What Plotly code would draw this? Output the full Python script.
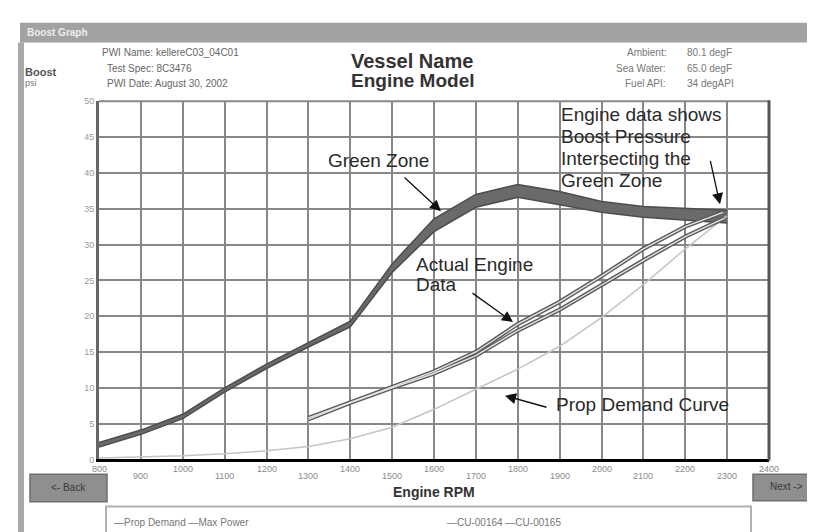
import plotly.graph_objects as go

# ---------------- data ----------------
zone_rpm = [800, 900, 1000, 1100, 1200, 1300, 1400, 1500, 1600, 1700, 1800, 1900, 2000, 2100, 2200, 2300]
zone_upper = [2.35, 4.1, 6.3, 10.0, 13.3, 16.3, 19.3, 27.3, 33.6, 37.0, 38.4, 37.4, 36.0, 35.3, 35.1, 34.8]
zone_lower = [1.75, 3.5, 5.7, 9.4, 12.7, 15.7, 18.5, 26.1, 31.8, 35.2, 36.6, 35.6, 34.5, 33.8, 33.4, 33.0]

prop_rpm = [800, 900, 1000, 1100, 1200, 1300, 1400, 1500, 1600, 1700, 1800, 1900, 2000, 2100, 2200, 2300]
prop_demand = [0.2, 0.3, 0.5, 0.8, 1.2, 1.8, 2.9, 4.5, 7.0, 9.8, 12.6, 15.8, 19.8, 24.4, 29.4, 34.0]

engine_rpm = [1300, 1400, 1500, 1600, 1700, 1800, 1900, 2000, 2100, 2200, 2290]
cu_00164 = [5.8, 8.0, 10.2, 12.3, 15.0, 18.9, 22.0, 25.6, 29.4, 32.5, 34.5]
cu_00165 = [5.6, 7.9, 10.0, 12.0, 14.5, 18.0, 20.9, 24.4, 27.8, 31.1, 33.6]

x_ticks = [800, 900, 1000, 1100, 1200, 1300, 1400, 1500, 1600, 1700, 1800, 1900, 2000, 2100, 2200, 2300, 2400]
x_tick_labels = ["800", "900", "1000", "1100", "1200", "1300", "1400", "1500", "1600",
                 "1700", "1800", "1900", "2000", "2100", "2200", "2300", "2400"]
legend_items_left = ["Prop Demand", "Max Power"]
legend_items_right = ["CU-00164", "CU-00165"]

# ---------------- layout helpers (figure pixels -> paper) ----------------
W, H = 815, 532
def P(px):
    return px / W
def Q(py):
    return 1 - py / H

FONT = "Arial, Liberation Sans, sans-serif"
GRID = "#888888"

fig = go.Figure()

# Green zone band
fig.add_trace(go.Scatter(x=zone_rpm, y=zone_lower, mode="lines",
                         line=dict(color="#4d4d4d", width=1.5), hoverinfo="skip"))
fig.add_trace(go.Scatter(x=zone_rpm, y=zone_upper, mode="lines", fill="tonexty",
                         fillcolor="#6a6a6a", line=dict(color="#4d4d4d", width=1.5),
                         name="Max Power"))

# Prop demand curve
fig.add_trace(go.Scatter(x=prop_rpm, y=prop_demand, mode="lines",
                         line=dict(color="#c4c4c4", width=1.5), name="Prop Demand"))

# Engine data (hollow double lines)
for series, nm in [(cu_00164, "CU-00164"), (cu_00165, "CU-00165")]:
    fig.add_trace(go.Scatter(x=engine_rpm, y=series, mode="lines",
                             line=dict(color="#5a5a5a", width=4.2), name=nm))
for series, nm in [(cu_00164, "CU-00164"), (cu_00165, "CU-00165")]:
    fig.add_trace(go.Scatter(x=engine_rpm, y=series, mode="lines",
                             line=dict(color="#e4e4e4", width=1.4), hoverinfo="skip",
                             showlegend=False))

fig.update_layout(
    width=W, height=H,
    margin=dict(l=0, r=0, t=0, b=0),
    paper_bgcolor="white", plot_bgcolor="white",
    showlegend=False,
    font=dict(family=FONT, color="#333"),
    xaxis=dict(domain=[P(91), P(761)], range=[800, 2400], dtick=100, tick0=800,
               showgrid=True, gridcolor=GRID, gridwidth=2, zeroline=False,
               showticklabels=False, showline=True, linecolor="black", linewidth=3,
               ticks=""),
    yaxis=dict(domain=[Q(455), Q(90)], range=[0, 50], dtick=5, tick0=0,
               showgrid=True, gridcolor=GRID, gridwidth=2, zeroline=False,
               showline=True, linecolor="#666", linewidth=3, ticks="",
               tickfont=dict(size=9, color="#9a9a9a", family=FONT)),
)

shapes = []
# window title bar and frame
shapes.append(dict(type="rect", xref="paper", yref="paper", x0=P(12), x1=P(815), y0=Q(30), y1=Q(10),
                   fillcolor="#a2a2a2", line=dict(width=0), layer="below"))
shapes.append(dict(type="rect", xref="paper", yref="paper", x0=P(10), x1=P(16), y0=Q(532), y1=Q(30),
                   fillcolor="#a8a8a8", line=dict(width=0), layer="below"))
# plot frame top and right
shapes.append(dict(type="line", xref="paper", yref="paper", x0=P(91), x1=P(761), y0=Q(90), y1=Q(90),
                   line=dict(color=GRID, width=2)))
shapes.append(dict(type="line", xref="paper", yref="paper", x0=P(761), x1=P(761), y0=Q(456), y1=Q(89),
                   line=dict(color="#555", width=3)))
# buttons
shapes.append(dict(type="rect", xref="paper", yref="paper", x0=P(22), x1=P(99), y0=Q(498), y1=Q(470),
                   fillcolor="#8f8f8f", line=dict(color="#6e6e6e", width=1.5)))
shapes.append(dict(type="rect", xref="paper", yref="paper", x0=P(745), x1=P(812), y0=Q(497), y1=Q(470),
                   fillcolor="#8f8f8f", line=dict(color="#6e6e6e", width=1.5)))
# legend box
shapes.append(dict(type="rect", xref="paper", yref="paper", x0=P(98), x1=P(743), y0=Q(531), y1=Q(503),
                   fillcolor="white", line=dict(color="#b0b0b0", width=2)))
fig.update_layout(shapes=shapes)

ann = []
def txt(text, x, y, size=10, color="#666", xanchor="left", bold=False, yanchor="middle"):
    if bold:
        text = "<b>" + text + "</b>"
    ann.append(dict(text=text, x=P(x), y=Q(y), xref="paper", yref="paper", showarrow=False,
                    xanchor=xanchor, yanchor=yanchor, font=dict(size=size, color=color, family=FONT)))

def arrow(tail, head):
    ann.append(dict(text="", x=P(head[0]), y=Q(head[1]), xref="paper", yref="paper",
                    showarrow=True, ax=tail[0] - head[0], ay=tail[1] - head[1],
                    arrowhead=2, arrowsize=1.7, arrowwidth=1.3, arrowcolor="#111"))

# title bar text
txt("Boost Graph", 17, 20, size=10, color="#eeeeee", bold=True)
# header
txt("Boost", 15, 60, size=11, color="#555", bold=True)
txt("psi", 15, 71, size=9, color="#777")
txt("PWI Name: kellereC03_04C01", 92, 40, size=10, color="#666")
txt("Test Spec: 8C3476", 97, 57, size=10, color="#666")
txt("PWI Date: August 30, 2002", 97, 72, size=10, color="#666")
txt("Vessel Name", 404, 49, size=20, color="#333", xanchor="center", bold=True)
txt("Engine Model", 405, 69, size=19, color="#333", xanchor="center", bold=True)
for lab, val, y in [("Ambient:", "80.1 degF", 40), ("Sea Water:", "65.0 degF", 57), ("Fuel API:", "34 degAPI", 72)]:
    txt(lab, 660, y, size=10, color="#777", xanchor="right")
    txt(val, 677, y, size=10, color="#777")

# x tick labels (alternating rows)
for i, (v, lab) in enumerate(zip(x_ticks, x_tick_labels)):
    ann.append(dict(text=lab, x=v, y=Q(465 if i % 2 == 0 else 472), xref="x", yref="paper",
                    showarrow=False, xanchor="center", yanchor="middle",
                    font=dict(size=9, color="#8a8a8a", family=FONT)))
txt("Engine RPM", 426, 488, size=14, color="#333", xanchor="center", bold=True)

# buttons
txt("&lt;- Back", 60, 484, size=10, color="#3a3a3a", xanchor="center")
txt("Next -&gt;", 778, 483, size=10, color="#3a3a3a", xanchor="center")

# legend
txt("\u2014" + legend_items_left[0] + " \u2014" + legend_items_left[1], 104, 519, size=10, color="#777")
txt("\u2014" + legend_items_right[0] + " \u2014" + legend_items_right[1], 437, 519, size=10, color="#777")

# callouts
txt("Green Zone", 370, 150, size=19, color="#2a2a2a", xanchor="center")
arrow((395, 167), (433, 202))
txt("Actual Engine", 406, 256, size=19, color="#2a2a2a")
txt("Data", 406, 277, size=19, color="#2a2a2a")
arrow((463, 285), (505, 315))
txt("Prop Demand Curve", 546, 399, size=19, color="#2a2a2a")
arrow((540, 402), (497, 390))
for j, line in enumerate(["Engine data shows", "Boost Pressure", "Intersecting the", "Green Zone"]):
    txt(line, 551, 103 + j * 22.5, size=19, color="#2a2a2a")
arrow((702, 150), (712, 195))

fig.update_layout(annotations=ann)
fig.write_html("out.html")
